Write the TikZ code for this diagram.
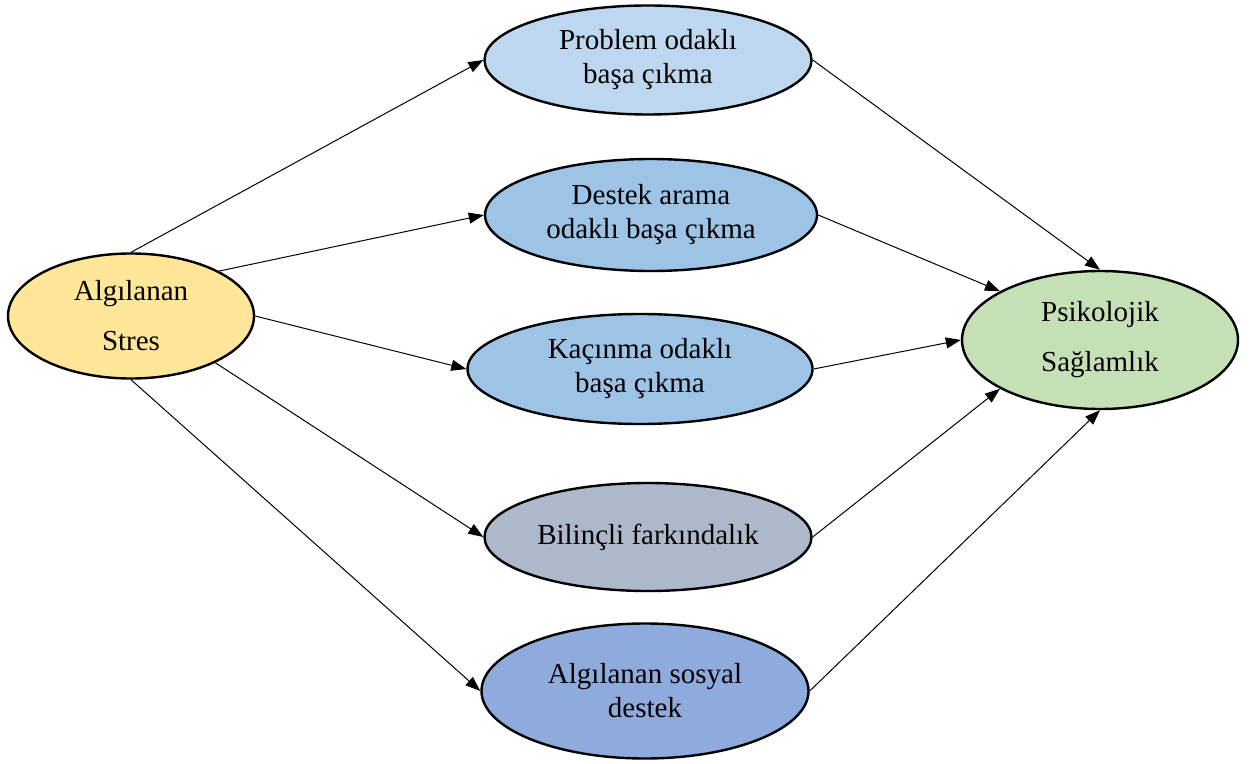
\documentclass[tikz,border=0pt]{standalone}
\usepackage{fontspec}
\setmainfont{Liberation Serif}
\usetikzlibrary{shapes.geometric,arrows.meta}
\definecolor{stresfill}{HTML}{FFE699}
\definecolor{problemfill}{HTML}{BDD7EE}
\definecolor{midblue}{HTML}{9DC3E6}
\definecolor{grayblue}{HTML}{ADB9CA}
\definecolor{socialfill}{HTML}{8FAADC}
\definecolor{resfill}{HTML}{C5E0B4}
\tikzset{
  oval/.style={ellipse, draw=black, line width=1.2pt, inner sep=0pt,
    align=center, font=\fontsize{14.5}{17}\selectfont},
  link/.style={line width=0.5pt, -{Triangle[length=7.5pt,width=5.5pt]}}
}
\begin{document}
\begin{tikzpicture}[x=0.5pt,y=-0.5pt]
\useasboundingbox (0,0) rectangle (1256,764);

% model constructs
\node[oval, fill=stresfill, minimum width=123pt, minimum height=62.5pt]
  (stres) at (131,316) {Algılanan\\[8pt]Stres};
\node[oval, fill=problemfill, minimum width=163.5pt, minimum height=54.5pt]
  (problem) at (648,60) {Problem odaklı\\başa çıkma};
\node[oval, fill=midblue, minimum width=166pt, minimum height=56pt]
  (destek) at (651,215) {Destek arama\\odaklı başa çıkma};
\node[oval, fill=midblue, minimum width=172.5pt, minimum height=55pt]
  (kacinma) at (640,369) {Kaçınma odaklı\\başa çıkma};
\node[oval, fill=grayblue, minimum width=163.5pt, minimum height=54pt]
  (bilincli) at (648,537) {Bilinçli farkındalık};
\node[oval, fill=socialfill, minimum width=163.5pt, minimum height=67.5pt]
  (sosyal) at (645,691) {Algılanan sosyal\\destek};
\node[oval, fill=resfill, minimum width=138pt, minimum height=69pt]
  (psik) at (1100,340) {Psikolojik\\[8pt]Sağlamlık};

% paths from perceived stress
\draw[link] (stres.north) -- (problem.west);
\draw[link] (stres.27) -- (destek.west);
\draw[link] (stres.east) -- (kacinma.west);
\draw[link] (stres.-29) -- (bilincli.west);
\draw[link] (stres.south) -- (sosyal.west);

% paths to resilience
\draw[link] (problem.east) -- (psik.north);
\draw[link] (destek.east) -- (psik.154);
\draw[link] (kacinma.east) -- (psik.west);
\draw[link] (bilincli.east) -- (psik.206);
\draw[link] (sosyal.east) -- (psik.south);
\end{tikzpicture}
\end{document}
